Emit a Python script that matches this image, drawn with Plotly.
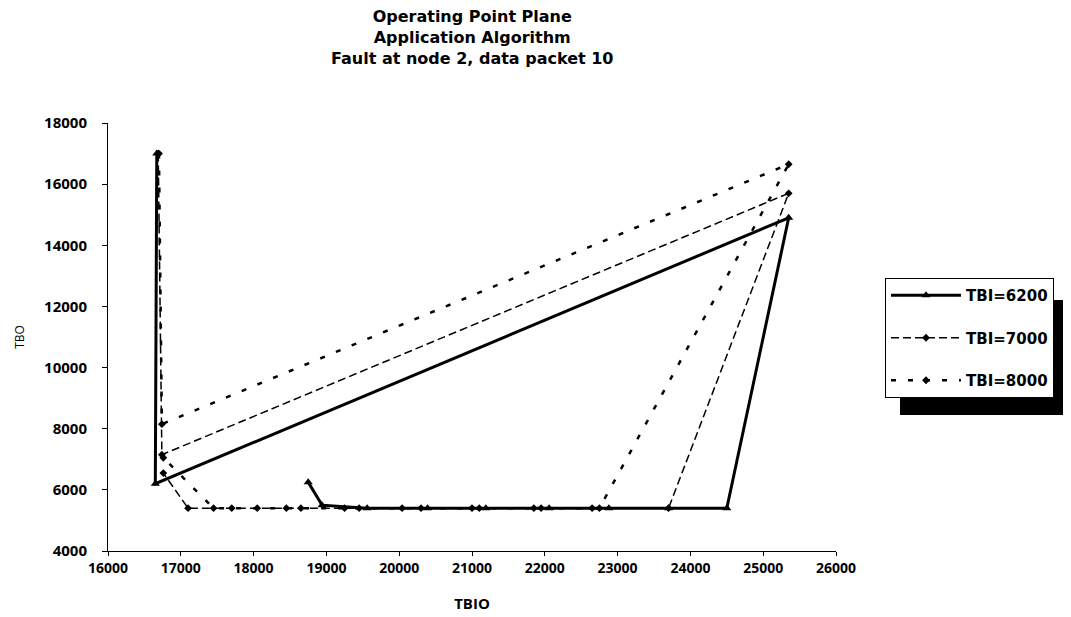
import plotly.graph_objects as go

# TBI=6200 series (operating point trajectory)
tbio_6200 = [16670, 16650, 25350, 24500, 23700, 22880, 22060, 21190, 20390, 19560, 18940, 18750]
tbo_6200 = [17000, 6200, 14900, 5400, 5400, 5400, 5400, 5400, 5400, 5400, 5500, 6250]

# TBI=7000 series
tbio_7000 = [16690, 16740, 25350, 23700, 22650, 21850, 21000, 20040, 19250, 18450, 17700, 17100, 16760]
tbo_7000 = [17000, 7150, 15700, 5400, 5400, 5400, 5400, 5400, 5400, 5400, 5400, 5400, 6550]

# TBI=8000 series
tbio_8000 = [16700, 16740, 25350, 22750, 21950, 21100, 20300, 19450, 18650, 18050, 17450, 16760]
tbo_8000 = [17000, 8150, 16650, 5400, 5400, 5400, 5400, 5400, 5400, 5400, 5400, 7050]

series_names = ["TBI=6200", "TBI=7000", "TBI=8000"]
title_lines = ["Operating Point Plane", "Application Algorithm", "Fault at node 2, data packet 10"]

font_family = "Open Sans"
title_family = "DejaVu Sans"

fig = go.Figure()
fig.add_trace(go.Scatter(x=tbio_6200, y=tbo_6200, mode="lines+markers", name=series_names[0],
                         legendgroup="a",
                         line=dict(color="black", width=3),
                         marker=dict(symbol="triangle-up", size=8, color="black")))
fig.add_trace(go.Scatter(x=tbio_7000, y=tbo_7000, mode="lines+markers", name=series_names[1],
                         legendgroup="b",
                         line=dict(color="black", width=1.5, dash="8px,4px"),
                         marker=dict(symbol="diamond", size=6, color="black")))
fig.add_trace(go.Scatter(x=tbio_8000, y=tbo_8000, mode="lines+markers", name=series_names[2],
                         legendgroup="c",
                         line=dict(color="black", width=2.5, dash="5px,12px"),
                         marker=dict(symbol="diamond", size=6, color="black")))

# title (three centred lines in one block)
fig.add_annotation(text="<b>" + "<br>".join(title_lines) + "</b>", xref="paper", yref="paper",
                   x=0.5, y=1 + (115 - 29) / 428, xanchor="center", yanchor="middle",
                   showarrow=False, font=dict(size=16, family=title_family))

# legend drop shadow
fig.add_shape(type="rect", xref="paper", yref="paper",
              x0=(900 - 108) / 728, x1=(1071 - 108) / 728,
              y0=(551 - 415) / 428, y1=(551 - 300) / 428,
              fillcolor="black", line=dict(width=0), layer="below")

# the page body adds an 8px offset, so the figure is 8px smaller
fig.update_layout(
    width=1063, height=609,
    margin=dict(l=100, r=235, t=115, b=66, autoexpand=False),
    paper_bgcolor="white", plot_bgcolor="white",
    font=dict(family=font_family, color="black"),
    legend=dict(x=(885 - 108) / 728, y=(551 - 278) / 428, xanchor="left", yanchor="top",
                bgcolor="white", bordercolor="black", borderwidth=1,
                font=dict(size=15, weight="bold", family=title_family), tracegroupgap=20,
                itemwidth=70),
    xaxis=dict(range=[16000, 26000], dtick=1000, tickformat="d", showgrid=False, zeroline=False,
               showline=True, linecolor="black", linewidth=1,
               ticks="outside", ticklen=4, tickcolor="black",
               tickfont=dict(size=14, weight="bold"),
               title=dict(text="TBIO", font=dict(size=15, weight="bold"), standoff=22)),
    yaxis=dict(range=[4000, 18000], dtick=2000, tickformat="d", showgrid=False, zeroline=False,
               showline=True, linecolor="black", linewidth=1,
               ticks="outside", ticklen=5, tickcolor="black", ticklabelstandoff=12,
               tickfont=dict(size=15, weight="bold"),
               title=dict(text="TBO", font=dict(size=12), standoff=16)),
)

fig.write_html("out.html")
